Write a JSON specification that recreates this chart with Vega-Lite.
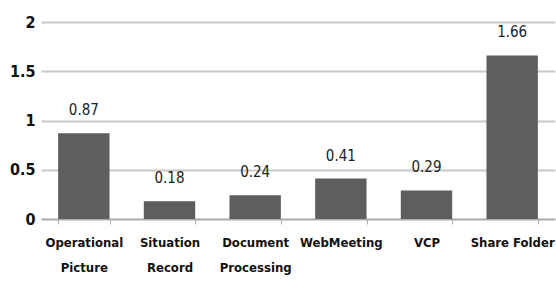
{
  "$schema": "https://vega.github.io/schema/vega-lite/v6.json",
  "autosize": "none",
  "width": 514,
  "height": 197,
  "padding": {"left": 41, "top": 22, "right": 1, "bottom": 76},
  "background": "white",
  "data": {"values": [
    {"category": "Operational\nPicture", "value": 0.87},
    {"category": "Situation\nRecord", "value": 0.18},
    {"category": "Document\nProcessing", "value": 0.24},
    {"category": "WebMeeting", "value": 0.41},
    {"category": "VCP", "value": 0.29},
    {"category": "Share Folder", "value": 1.66}
  ]},
  "config": {
    "view": {"stroke": null},
    "font": "DejaVu Sans Condensed"
  },
  "encoding": {
    "x": {"field": "category", "type": "nominal", "sort": null,
      "scale": {"paddingInner": 0.4, "paddingOuter": 0.2},
      "axis": {"title": null, "labelAngle": 0, "labelExpr": "split(datum.label, '\\n')",
        "labelFont": "DejaVu Sans Condensed", "labelFontWeight": "bold", "labelFontSize": 13,
        "labelColor": "#111", "labelLineHeight": 25, "labelPadding": 12,
        "domainColor": "#aaaaaa", "domainWidth": 1.5, "tickColor": "#aaaaaa", "tickSize": 5,
        "tickBand": "extent", "labelBaseline": "top"}},
    "y": {"field": "value", "type": "quantitative",
      "scale": {"domain": [0, 2]},
      "axis": {"title": null, "values": [0, 0.5, 1, 1.5, 2], "labelExpr": "datum.value",
        "domain": false, "ticks": false, "labelPadding": 6,
        "labelFont": "DejaVu Sans Condensed", "labelFontWeight": "bold", "labelFontSize": 16,
        "labelColor": "#111", "gridColor": "#c8c8c8", "gridWidth": 2}}
  },
  "layer": [
    {"mark": {"type": "bar", "color": "#5e5e5e"}},
    {"mark": {"type": "text", "baseline": "bottom", "dy": -15, "fontSize": 15, "font": "DejaVu Sans Condensed", "color": "#222"},
      "encoding": {"text": {"field": "value", "type": "quantitative", "format": ".2f"}}}
  ]
}
